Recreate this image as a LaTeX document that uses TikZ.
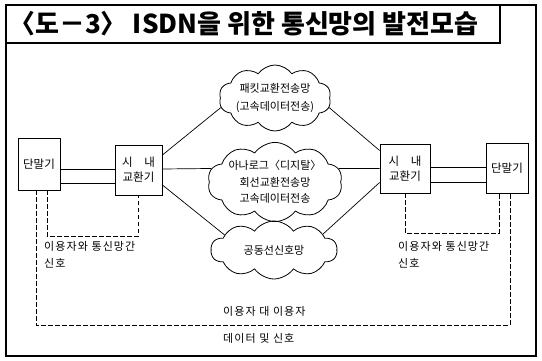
\documentclass[tikz,border=0pt]{standalone}
\usepackage{fontspec}
\newfontfamily\kr{Noto Sans CJK KR}
\newfontfamily\krw{Noto Sans CJK KR}[LetterSpace=10]
\usetikzlibrary{shapes.symbols}

\tikzset{
  frameline/.style={line width=1.3pt},
  box/.style={draw, line width=0.8pt, inner sep=0pt, align=center,
              font=\kr\fontsize{11.5}{15}\selectfont},
  netcloud/.style={draw, line width=0.8pt, cloud, cloud puffs=10,
              cloud puff arc=110, cloud ignores aspect, inner sep=0pt,
              align=center},
  link/.style={line width=0.7pt},
  dsh/.style={line width=0.8pt, dash pattern=on 4.5pt off 2.5pt},
  lbl/.style={inner sep=0pt, align=left, font=\krw\fontsize{11}{17}\selectfont}
}

\begin{document}
\begin{tikzpicture}[x=1pt, y=-1pt]
\useasboundingbox (0,0) rectangle (542,361);

% outer frame and title box
\draw[frameline] (6,5) rectangle (536,356);
\draw[frameline] (6,5) rectangle (500,43);
\node[anchor=west, inner sep=0pt, font=\kr\bfseries\fontsize{26}{28}\selectfont]
  (title) at (9,24) {〈도－3〉 ISDN을 위한 통신망의 발전모습};

% terminals and local exchanges
\node[box, minimum width=42, minimum height=52] (lt) at (39,164) {단말기};
\node[box, minimum width=47, minimum height=50] (lsw) at (138.5,170) {시\quad 내\\교환기};
\node[box, minimum width=50, minimum height=49] (rsw) at (405,168.5) {시\quad 내\\교환기};
\node[box, minimum width=42, minimum height=50] (rt) at (507,168) {단말기};

% network clouds
\node[netcloud, minimum width=112, minimum height=66,
      font=\kr\fontsize{11}{18}\selectfont] (c1) at (275,98)
  {패킷교환전송망\\(고속데이터전송)};
\node[netcloud, minimum width=124, minimum height=74,
      font=\kr\fontsize{11}{16.5}\selectfont] (c2) at (275,182)
  {아나로그〈디지탈〉\\회선교환전송망\\고속데이터전송};
\node[netcloud, minimum width=126, minimum height=58,
      font=\kr\fontsize{11}{15}\selectfont] (c3) at (274,250)
  {공동선신호망};

% double lines terminal -- exchange
\draw[link] (lt.east |- 0,169) -- (lsw.west |- 0,169);
\draw[link] (lt.east |- 0,183) -- (lsw.west |- 0,183);
\draw[link] (rsw.east |- 0,167) -- (rt.west |- 0,167);
\draw[link] (rsw.east |- 0,182) -- (rt.west |- 0,182);

% exchange -- network links
\draw[link] ([yshift=15pt]lsw.east) -- (c1.190);
\draw[link] (c1.-10) -- ([yshift=18pt]rsw.west);
\draw[link] ([yshift=1pt]lsw.east) -- (c2.168);
\draw[link] (c2.12) -- (rsw.west);
\draw[link] ([yshift=-15pt]lsw.east) -- (c3.163);
\draw[link] (c3.18) -- ([yshift=-14pt]rsw.west);

% user-network signalling loops
\coordinate (li) at (47,236);
\coordinate (ri) at (499,233);
\draw[dsh] (lt.south -| li) -- (li) -- (lsw.south |- li) -- (lsw.south);
\draw[dsh] (rsw.south) -- (rsw.south |- ri) -- (ri) -- (rt.south -| ri);
% user-to-user loop
\coordinate (lo) at (36,325);
\coordinate (ro) at (510,325);
\draw[dsh] (lt.south -| lo) -- (lo) -- (ro) -- (rt.south -| ro);

% labels
\node[lbl, anchor=west] (ll) at (44,255) {이용자와 통신망간\\신호};
\node[lbl, anchor=west] (rl) at (398,255) {이용자와 통신망간\\신호};
\node[lbl, anchor=west] (ue) at (223,311) {이용자 대 이용자};
\node[lbl, anchor=west] (ud) at (223,338) {데이터 및 신호};
\end{tikzpicture}
\end{document}
